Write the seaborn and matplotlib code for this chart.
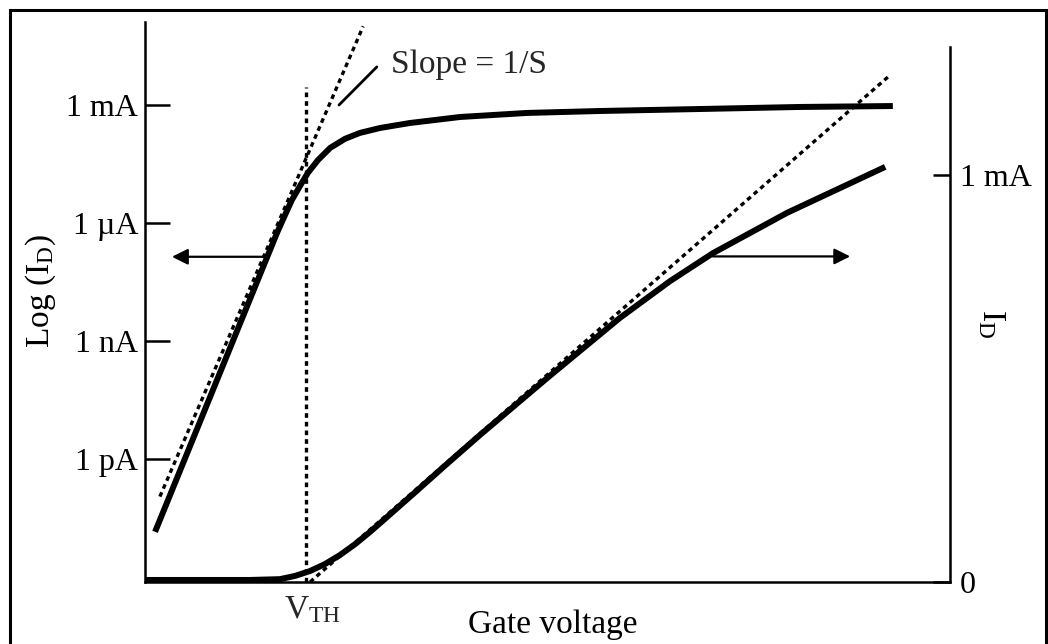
import numpy as np
import pandas as pd
import seaborn as sns
import matplotlib.pyplot as plt
from matplotlib.patches import Rectangle

# Values (gate voltage in V, drain current)
vg_log = [0.025, 0.328, 0.348, 0.365, 0.385, 0.405, 0.43, 0.46, 0.497, 0.534, 0.584, 0.658,
          0.783, 0.949, 1.130, 1.379, 1.627, 1.858]
id_log = [1.4e-14, 5.6e-7, 1.6e-6, 3.85e-6, 8.7e-6, 1.9e-5, 4.0e-5, 8.1e-5, 1.38e-4, 1.95e-4,
          2.6e-4, 3.48e-4, 4.95e-4, 6.27e-4, 7.03e-4, 7.9e-4, 8.9e-4, 9.4e-4]  # A

vg_lin = [0.0, 0.261, 0.335, 0.373, 0.410, 0.447, 0.484, 0.522, 0.559, 0.596, 0.666, 0.750,
          0.832, 0.999, 1.180, 1.304, 1.411, 1.595, 1.839]
id_lin = [0.005, 0.005, 0.007, 0.015, 0.027, 0.044, 0.066, 0.093, 0.123, 0.155, 0.216, 0.290,
          0.361, 0.501, 0.649, 0.739, 0.808, 0.907, 1.020]  # mA

# subthreshold slope tangent (log axis) and linear-region tangent
tan_log_v = [0.037, 0.542]
tan_log_i = [1.1e-13, 1.0e-1]
tan_lin_v = [0.41, 1.846]
tan_lin_i = [0.0, 1.241]

vth = 0.40
vth_top = 1.216  # mA

log_ticks = [1e-3, 1e-6, 1e-9, 1e-12]
log_labels = ['1 mA', '1 \u00b5A', '1 nA', '1 pA']
lin_ticks = [0, 1.0]
lin_labels = ['0', '1 mA']

sns.set_theme(style='white')
plt.rcParams['font.family'] = ['Liberation Serif', 'DejaVu Serif']
plt.rcParams['mathtext.fontset'] = 'stix'

dots = (0, (1.4, 1.2))

fig = plt.figure(figsize=(10.48, 6.44), dpi=100)
ax = fig.add_axes([145 / 1048, 62 / 644, 805 / 1048, 560 / 644])
ax2 = ax.twinx()
ax2.patch.set_visible(False)

df_log = pd.DataFrame({'vg': vg_log, 'id': id_log})
df_lin = pd.DataFrame({'vg': vg_lin, 'id': id_lin})

ax.set_yscale('log')
sns.lineplot(data=df_log, x='vg', y='id', ax=ax, color='black', linewidth=4.3,
             sort=False, estimator=None, solid_capstyle='butt', solid_joinstyle='round')
sns.lineplot(x=tan_log_v, y=tan_log_i, ax=ax, color='black', linewidth=2.4, linestyle=dots)

sns.lineplot(data=df_lin, x='vg', y='id', ax=ax2, color='black', linewidth=4.3,
             sort=False, estimator=None, solid_capstyle='butt', solid_joinstyle='round')
sns.lineplot(x=tan_lin_v, y=tan_lin_i, ax=ax2, color='black', linewidth=2.4, linestyle=dots)
ax2.vlines(vth, 0, vth_top, color='black', linewidth=2.4, linestyles=[dots])

ax.set_xlim(0, 2.0)
ax.set_ylim(10 ** -15.13, 10 ** -0.89)
ax2.set_ylim(0, 1.376)

# axes styling
for s in ['top', 'right']:
    ax.spines[s].set_visible(False)
for s in ['top', 'left', 'bottom']:
    ax2.spines[s].set_visible(False)
for sp in [ax.spines['left'], ax.spines['bottom'], ax2.spines['right']]:
    sp.set_linewidth(1.8)
    sp.set_color('black')
ax2.spines['right'].set_bounds(0, 1.314)

ax.set_xticks([])
ax.set_yticks(log_ticks)
ax.set_yticklabels(log_labels)
ax.yaxis.set_minor_locator(plt.NullLocator())
ax.tick_params(axis='y', direction='in', length=18, width=1.8, pad=5,
               labelsize=23, colors='black', left=True)

ax2.set_yticks(lin_ticks)
ax2.set_yticklabels(lin_labels)
ax2.tick_params(axis='y', direction='in', length=12, width=1.8, pad=7,
                labelsize=23, colors='black', right=True)

ax.set_xlabel('Gate voltage', fontsize=24, color='black')
ax.xaxis.set_label_coords(0.506, -0.05)
ax.set_ylabel(r'Log (I$\mathregular{_D}$)', fontsize=24, color='black', va='center')
ax.yaxis.set_label_coords(-0.129, 0.52)
ax2.set_ylabel(r'I$\mathregular{_D}$', fontsize=24, color='black', rotation=270, va='center')
ax2.yaxis.set_label_coords(1.051, 0.461)

ax.text(vth + 0.015, -0.05, r'V$\mathregular{_{TH}}$', fontsize=24, ha='center', va='center',
        transform=ax.get_xaxis_transform())

# slope annotation
ax.annotate('', xy=(0.482, 1.0e-3), xytext=(0.576, 9.3e-3),
            arrowprops=dict(arrowstyle='-', lw=2, color='black', shrinkA=0, shrinkB=0))
ax.text(0.611, 1.05e-2, 'Slope = 1/S', fontsize=24, ha='left', va='center')

# axis arrows
ax.annotate('', xy=(0.067, 1.38e-7), xytext=(0.303, 1.38e-7),
            arrowprops=dict(arrowstyle='-|>', lw=1.6, color='black', mutation_scale=24,
                            shrinkA=0, shrinkB=0))
ax2.annotate('', xy=(1.752, 0.80), xytext=(1.411, 0.80),
             arrowprops=dict(arrowstyle='-|>', lw=1.6, color='black', mutation_scale=24,
                             shrinkA=0, shrinkB=0))

# outer frame of the figure
fig.patches.append(Rectangle((10 / 1048, -0.1), 1036 / 1048, 0.1 + 634 / 644,
                             transform=fig.transFigure, fill=False, edgecolor='black',
                             linewidth=2.2, clip_on=False))

fig.savefig('out.png', dpi=100)
